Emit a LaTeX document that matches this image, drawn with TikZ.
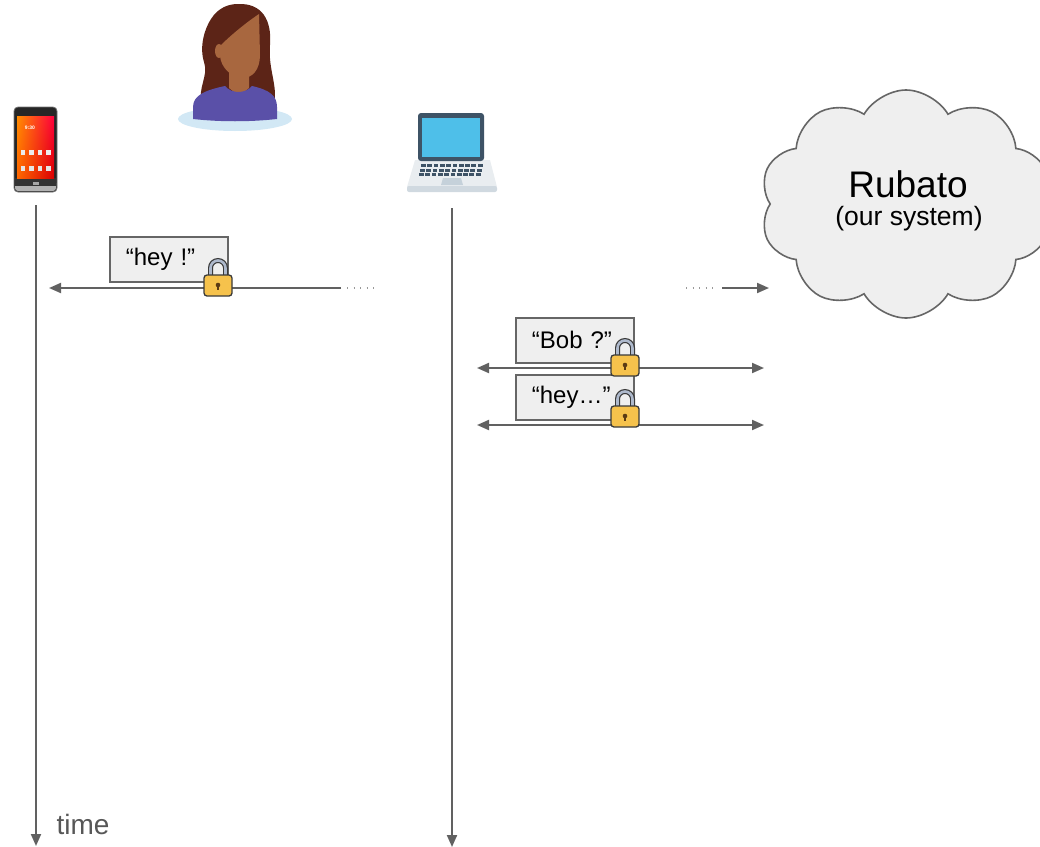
\documentclass[tikz,border=0pt]{standalone}
\usepackage{fontspec}
\setmainfont{Liberation Sans}
\usetikzlibrary{arrows.meta,shapes.symbols,shadings}

\definecolor{linegray}{HTML}{616161}
\definecolor{dotgray}{HTML}{999999}
\definecolor{boxedge}{HTML}{666666}
\definecolor{boxfill}{HTML}{EFEFEF}
\definecolor{lockbody}{HTML}{F6C24C}
\definecolor{lockedge}{HTML}{3A3A3A}
\definecolor{shackle}{HTML}{AEB9CC}
\definecolor{keyhole}{HTML}{5B3B14}
\definecolor{hair}{HTML}{5C2417}
\definecolor{skin}{HTML}{A8673F}
\definecolor{shirt}{HTML}{5A50A8}
\definecolor{halo}{HTML}{D2E8F5}
\definecolor{bezel}{HTML}{3E5366}
\definecolor{lcd}{HTML}{4EBFE9}
\definecolor{deck}{HTML}{E9EDF0}
\definecolor{deckedge}{HTML}{D0D9E0}
\definecolor{pad}{HTML}{C5D1DA}

\tikzset{
  lifeline/.style={draw=linegray, line width=2pt, -{Triangle[length=12pt,width=10pt]}},
  oneway/.style={draw=linegray, line width=2pt, -{Triangle[length=12pt,width=10pt]}},
  twoway/.style={draw=linegray, line width=2pt,
    {Triangle[length=12pt,width=10pt]}-{Triangle[length=12pt,width=10pt]}},
  dotted trail/.style={draw=dotgray, line width=1.4pt, dash pattern=on 1.4pt off 5.1pt},
  msgbox/.style={draw=boxedge, fill=boxfill, line width=1.8pt, anchor=north west,
    text width=86pt, inner xsep=16pt, inner ysep=0pt, minimum height=45pt, align=left,
    font=\fontsize{24}{28}\selectfont},
  padlock/.pic={
    \draw[lockedge, line width=5pt] (-7.5,-9) -- (-7.5,-17)
      arc[start angle=180, end angle=360, radius=7.5] -- (7.5,-9);
    \draw[shackle, line width=2.6pt] (-7.5,-9) -- (-7.5,-17)
      arc[start angle=180, end angle=360, radius=7.5] -- (7.5,-9);
    \filldraw[fill=lockbody, draw=lockedge, line width=1.3pt, rounded corners=3pt]
      (-14,-10) rectangle (14,11);
    \fill[keyhole] (0,0) circle[radius=2.3];
    \fill[keyhole] (-1,0) rectangle (1,4.8);
  }
}

\begin{document}
\begin{tikzpicture}[x=1pt, y=-1pt]
\useasboundingbox (0,0) rectangle (1040,846);

% ---------- phone ----------
\fill[black!85, rounded corners=4pt] (14,107) rectangle (57,192);
\fill[gray!60, rounded corners=3pt] (15,180) rectangle (56,191);
\fill[black!80] (15,178) rectangle (56,186);
\draw[black!55, line width=0.8pt, rounded corners=4pt] (14,107) rectangle (57,192);
\shade[upper left=orange!90!yellow, upper right=red!75!magenta,
       lower left=orange!80!red, lower right=red!85!black] (17,116) rectangle (54,178);
\node[white, font=\fontsize{5}{5}\selectfont\bfseries] (clock) at (30,128) {9:30};
\foreach \i in {0,1,2,3} {
  \fill[white!85!gray] (20.5+\i*8.5,150) rectangle (25+\i*8.5,155);
  \fill[white!80!gray] (20.5+\i*8.5,166) rectangle (25+\i*8.5,171);
}
\fill[gray!70] (33,182) rectangle (39,185);

% ---------- person ----------
\fill[halo] (235,119) ellipse[x radius=57, y radius=12];
\fill[hair] (238,4) .. controls (262,3) and (272,20) .. (270,45)
  .. controls (268,70) and (278,85) .. (274,104) -- (202,104)
  .. controls (197,88) and (209,76) .. (204,62)
  .. controls (199,46) and (205,28) .. (211,19)
  .. controls (218,8) and (228,4) .. (238,4) -- cycle;
\fill[skin] (229,62) -- (249,62) -- (249,88) -- (239,96) -- (229,88) -- cycle;
\fill[skin] (220,46) .. controls (234,32) and (250,20) .. (259,14)
  -- (260,55) .. controls (260,70) and (252,78) .. (243,78)
  .. controls (232,78) and (221,68) .. (220,56) -- cycle;
\fill[skin] (219,51) ellipse[x radius=4, y radius=7];
\fill[shirt] (193,119) -- (193,107) .. controls (193,95) and (206,90) .. (225,86)
  .. controls (232,94) and (245,94) .. (252,86)
  .. controls (270,90) and (277,96) .. (277,107) -- (277,119)
  .. controls (250,122) and (220,122) .. (193,119) -- cycle;

% ---------- laptop ----------
\fill[deck] (415,160) -- (490,160) -- (497,187) -- (407,187) -- cycle;
\fill[deckedge, rounded corners=2pt] (407,186) rectangle (497,192);
\fill[bezel, rounded corners=3pt] (418,113) rectangle (484,161);
\fill[lcd] (422,118) rectangle (480,157);
\foreach \r/\y/\x in {0/164/421, 1/168.5/420, 2/173/419} {
  \foreach \k in {0,...,9} {
    \fill[bezel] (\x+\k*6.3,\y) rectangle (\x+\k*6.3+4.8,\y+3.2);
  }
}
\fill[pad] (443,178) -- (461,178) -- (463,185) -- (441,185) -- cycle;

% ---------- cloud ----------
\node[cloud, cloud puffs=10, cloud puff arc=120, draw=boxedge, fill=boxfill,
      line width=1.6pt, minimum width=292pt, minimum height=228pt, inner sep=0pt]
      (cloudsys) at (906,204) {};
\node[font=\fontsize{37}{40}\selectfont] (rubato) at (908,184) {Rubato};
\node[font=\fontsize{26.5}{30}\selectfont] (oursys) at (909,219) {(our system)};

% ---------- lifelines ----------
\coordinate (phonetop) at (36,205);
\coordinate (phoneend) at (36,846);
\coordinate (laptoptop) at (452,208);
\coordinate (laptopend) at (452,847);
\draw[lifeline] (phonetop) -- (phoneend);
\draw[lifeline] (laptoptop) -- (laptopend);
\node[anchor=west, text=linegray!90!black, font=\fontsize{28}{30}\selectfont] (timelabel)
  at (53,824) {time};

% ---------- message to the phone ----------
\node[msgbox] (hey) at (109,236) {“hey !”};
\coordinate (m1from) at (341,288);
\coordinate (m1to) at (49,288);
\coordinate (m1dotA) at (347,288);
\coordinate (m1dotB) at (376,288);
\draw[oneway] (m1from) -- (m1to);
\draw[dotted trail] (m1dotA) -- (m1dotB);

% ---------- message to the cloud ----------
\coordinate (m2dotA) at (686,288);
\coordinate (m2dotB) at (718,288);
\coordinate (m2from) at (722,288);
\coordinate (m2to) at (769,288);
\draw[dotted trail] (m2dotA) -- (m2dotB);
\draw[oneway] (m2from) -- (m2to);

% ---------- laptop exchanges ----------
\node[msgbox] (bob) at (515,317) {“Bob ?”};
\node[msgbox] (heyback) at (515,374) {“hey…”};
\coordinate (x1l) at (477,368);
\coordinate (x1r) at (764,368);
\coordinate (x2l) at (477,425);
\coordinate (x2r) at (764,425);
\draw[twoway] (x1l) -- (x1r);
\draw[twoway] (x2l) -- (x2r);

% ---------- padlocks ----------
\pic at (218,285) {padlock};
\pic at (625,365) {padlock};
\pic at (625,416) {padlock};
\end{tikzpicture}
\end{document}
